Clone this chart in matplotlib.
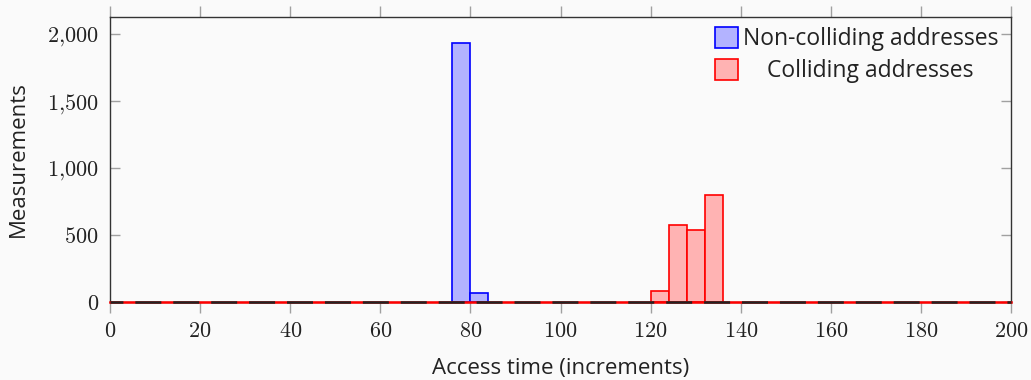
import matplotlib
matplotlib.use("Agg")
import matplotlib.pyplot as plt
import numpy as np
from matplotlib.ticker import FuncFormatter, MultipleLocator

# histogram bins of width 4 (left edges) and counts
bin_width = 4
noncolliding_bins = [76, 80]
noncolliding_counts = [1930, 65]
colliding_bins = [120, 124, 128, 132]
colliding_counts = [84, 575, 535, 796]

x_ticks = [0, 20, 40, 60, 80, 100, 120, 140, 160, 180, 200]
y_ticks = [0, 500, 1000, 1500, 2000]

plt.rcParams['font.family'] = ['Open Sans', 'DejaVu Sans']
plt.rcParams['mathtext.fontset'] = 'cm'
plt.rcParams['lines.scale_dashes'] = False

bg = '#fafafa'
txt = '#222222'
fs = 16
lfs = 16.5
fig = plt.figure(figsize=(10.31, 3.8), dpi=100, facecolor=bg)
ax = fig.add_axes([0.1067, 0.2053, 0.874, 0.75])
ax.set_facecolor(bg)

ax.bar(noncolliding_bins, noncolliding_counts, width=bin_width, align='edge',
       color='#b3b3ff', edgecolor='#0000ff', linewidth=1.2,
       label='Non-colliding addresses', zorder=2)
ax.bar(colliding_bins, colliding_counts, width=bin_width, align='edge',
       color='#ffb3b3', edgecolor='#ff0000', linewidth=1.2,
       label='Colliding addresses', zorder=2)

# zero-height bars along the baseline
ax.axhline(0, color='#ff0000', lw=1.8, zorder=3, clip_on=False)
ax.axhline(0, color='#222222', lw=1.8, zorder=4, clip_on=False,
           linestyle=(9.4, (18.7, 8.6)))

ax.set_xlim(0, 200)
ax.set_ylim(0, 2125)
ax.set_xticks(x_ticks)
ax.set_yticks(y_ticks)


def fmt(v, pos):
    return '$%s$' % f'{v:,.0f}'.replace(',', '{,}')


ax.xaxis.set_major_formatter(FuncFormatter(fmt))
ax.yaxis.set_major_formatter(FuncFormatter(fmt))

for s in ax.spines.values():
    s.set_color('#333333')
    s.set_linewidth(1.0)

ax.tick_params(axis='x', which='both', direction='out', top=True,
               length=8, width=1, color='#a0a0a0', labelsize=16,
               labelcolor=txt, pad=6)
ax.tick_params(axis='y', which='both', direction='in', right=True,
               length=7, width=1, color='#a0a0a0', labelsize=16,
               labelcolor=txt, pad=8)

ax.set_xlabel('Access time (increments)', fontsize=fs, color=txt,
              labelpad=11)
ax.set_ylabel('Measurements', fontsize=fs, color=txt, labelpad=13)

leg = ax.legend(loc='upper right', bbox_to_anchor=(0.9933, 0.989),
                frameon=False, fontsize=lfs,
                handlelength=1.0, handleheight=1.0, handletextpad=0.2,
                borderaxespad=0.0, borderpad=0.3, labelspacing=0.35,
                labelcolor=txt)

# centre the second label under the first one
fig.canvas.draw()
texts = leg.get_texts()
r = fig.canvas.get_renderer()
b0 = texts[0].get_window_extent(r)
b1 = texts[1].get_window_extent(r)
texts[1].set_visible(False)
fig.text((b0.x0 + b0.x1) / 2 / fig.bbox.width,
         (b1.y0 + b1.y1) / 2 / fig.bbox.height,
         texts[1].get_text(), ha='center', va='center',
         fontsize=lfs, color=txt)

fig.savefig('out.png', dpi=100, facecolor=bg)
